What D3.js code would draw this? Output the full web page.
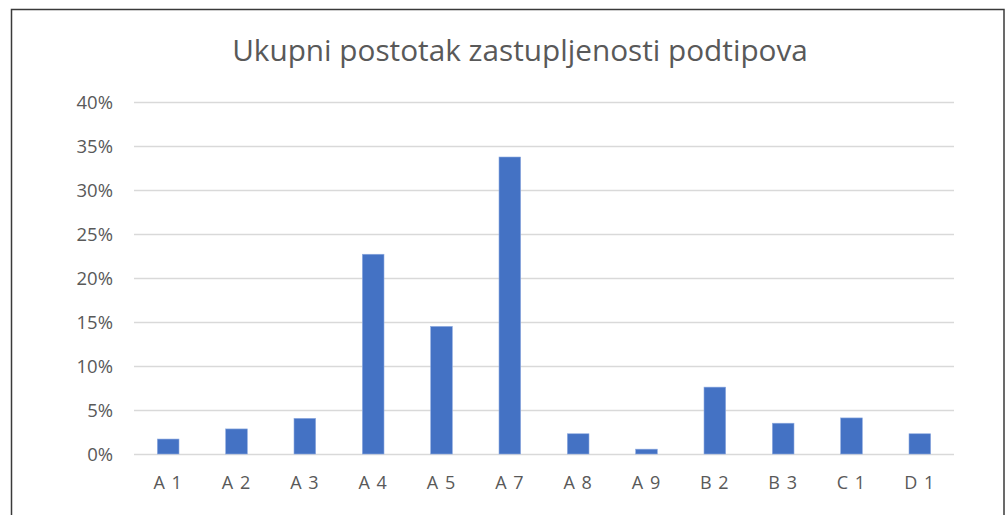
<!DOCTYPE html>
<html>
<head>
<meta charset="utf-8">
<script src="https://cdn.jsdelivr.net/npm/d3@7"></script>
<style>
  html, body { margin: 0; padding: 0; background: #fff; }
  svg { display: block; }
  text { font-family: "Open Sans", "Noto Sans", sans-serif; fill: #595959; }
</style>
</head>
<body>
<svg id="chart" width="1006" height="515"></svg>
<script>
const title = "Ukupni postotak zastupljenosti podtipova";
const categories = ["A 1", "A 2", "A 3", "A 4", "A 5", "A 7", "A 8", "A 9", "B 2", "B 3", "C 1", "D 1"];
const values = [0.017, 0.0285, 0.0405, 0.227, 0.145, 0.3375, 0.023, 0.0055, 0.076, 0.035, 0.041, 0.023];
const yTicks = [0, 0.05, 0.10, 0.15, 0.20, 0.25, 0.30, 0.35, 0.40];

const svg = d3.select("#chart");
const plot = { left: 134, right: 954, top: 102, bottom: 454 };

svg.append("rect")
  .attr("x", 11.5).attr("y", 9.5)
  .attr("width", 992.5).attr("height", 530)
  .attr("fill", "#fff").attr("stroke", "#3a3a3a").attr("stroke-width", 1.5);

const x = d3.scaleBand().domain(categories)
  .range([plot.left, plot.right]).paddingInner(0.683).paddingOuter(0.3415);
const y = d3.scaleLinear().domain([0, 0.40]).range([plot.bottom, plot.top]);

const yAxis = d3.axisLeft(y).tickValues(yTicks).tickFormat(d3.format(".0%"))
  .tickSize(-(plot.right - plot.left)).tickPadding(21);
const gy = svg.append("g").attr("transform", `translate(${plot.left},0)`).call(yAxis);
gy.select(".domain").remove();
gy.selectAll(".tick line").attr("stroke", "#d9d9d9").attr("stroke-width", 1.5);
gy.selectAll(".tick text").attr("font-size", 18.5).attr("fill", "#595959")
  .attr("dy", "0.36em").style("font-family", '"Open Sans", sans-serif');

svg.append("g").selectAll("rect").data(categories).join("rect")
  .attr("x", d => x(d))
  .attr("y", (d, i) => y(values[i]))
  .attr("width", x.bandwidth())
  .attr("height", (d, i) => y(0) - y(values[i]))
  .attr("fill", "#4472C4")
  .attr("stroke", "#8fabe0").attr("stroke-width", 0.6);

const xAxis = d3.axisBottom(x).tickSize(0).tickPadding(22);
const gx = svg.append("g").attr("transform", `translate(0,${plot.bottom})`).call(xAxis);
gx.select(".domain").remove();
gx.selectAll(".tick text").attr("font-size", 18).attr("fill", "#595959")
  .style("font-family", '"Open Sans", sans-serif').attr("dy", "0.71em").attr("letter-spacing", 1);

const t = svg.append("text").attr("x", 520).attr("y", 61)
  .attr("text-anchor", "middle").attr("font-size", 30).attr("fill", "#666666")
  .text(title);
const len = t.node().getComputedTextLength();
t.attr("font-size", 30 * 576 / len);
</script>
</body>
</html>
